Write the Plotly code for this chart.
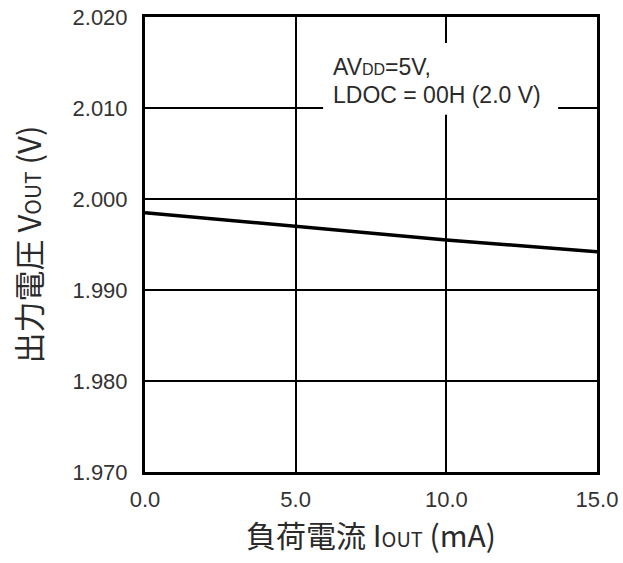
import plotly.graph_objects as go

# Load current vs. regulated output voltage
iout_ma = [0.0, 5.0, 10.0, 15.0]
vout_v = [1.9985, 1.9970, 1.9955, 1.9942]

x_ticks = [0.0, 5.0, 10.0, 15.0]
x_tick_text = ["0.0", "5.0", "10.0", "15.0"]
y_ticks = [1.970, 1.980, 1.990, 2.000, 2.010, 2.020]
y_tick_text = ["1.970", "1.980", "1.990", "2.000", "2.010", "2.020"]

FONT = "Liberation Sans, Arial, Noto Sans CJK JP, sans-serif"
TITLE_FONT = "Noto Sans CJK JP, Liberation Sans, sans-serif"
INK = "#2a2a2a"

fig = go.Figure()
fig.add_trace(go.Scatter(
    x=iout_ma, y=vout_v, mode="lines",
    line=dict(color="black", width=3.5),
    showlegend=False, hoverinfo="skip",
))

axis_common = dict(
    showgrid=True, gridcolor="black", gridwidth=1.5,
    showline=True, linecolor="black", linewidth=3, mirror=True,
    ticks="", zeroline=False, automargin=False,
    tickfont=dict(family=FONT, size=22, color="#333333", weight=400),
)

fig.update_xaxes(
    range=[0, 15], tickvals=x_ticks, ticktext=x_tick_text,
    ticklabelstandoff=6,
    title=dict(text="負荷電流 I<span style='font-size:20px'>OUT</span> (mA)",
               font=dict(family=TITLE_FONT, size=30, color=INK), standoff=12),
    **axis_common,
)
fig.update_yaxes(
    range=[1.970, 2.020], tickvals=y_ticks, ticktext=y_tick_text,
    ticklabelstandoff=10,
    title=dict(text="出力電圧 V<span style='font-size:21px'>OUT</span> (V)",
               font=dict(family=TITLE_FONT, size=31, color=INK), standoff=22),
    **axis_common,
)

# White panel behind the condition note, hiding the grid lines there
fig.add_shape(type="rect", xref="paper", yref="paper",
              x0=0.394, x1=0.914, y0=0.785, y1=0.943,
              fillcolor="white", line=dict(width=0), layer="above")

fig.add_annotation(
    text="AV<span style='font-size:16px'>DD</span>=5V,",
    xref="paper", yref="paper", x=0.4115, y=0.890,
    xanchor="left", yanchor="middle", showarrow=False,
    font=dict(family=FONT, size=23, color=INK),
)
fig.add_annotation(
    text="LDOC = 00H (2.0 V)",
    xref="paper", yref="paper", x=0.4115, y=0.829,
    xanchor="left", yanchor="middle", showarrow=False,
    font=dict(family=FONT, size=23, color=INK),
)

fig.update_layout(
    width=623, height=563,
    margin=dict(l=145, r=26, t=17, b=91),
    paper_bgcolor="white", plot_bgcolor="white",
)

fig.write_html("out.html")
